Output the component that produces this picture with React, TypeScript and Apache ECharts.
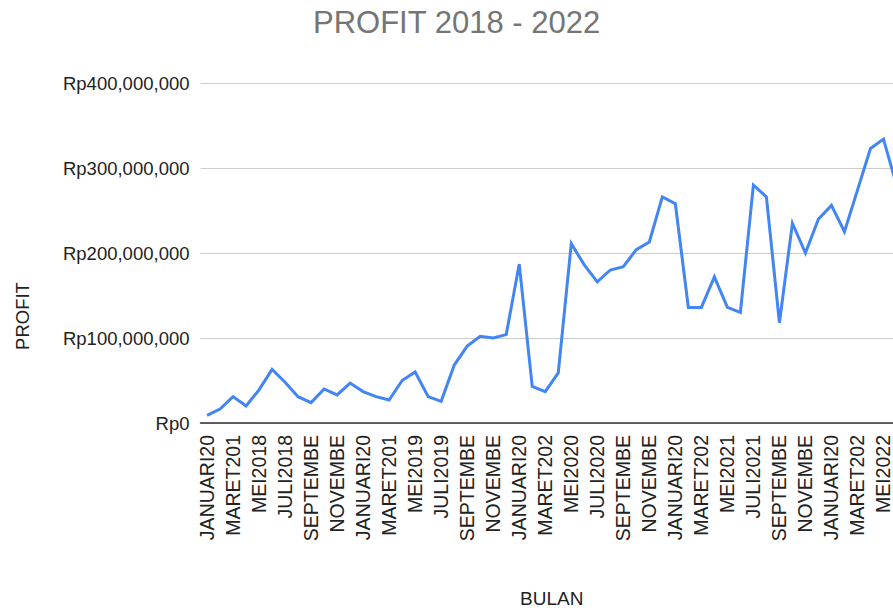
import React, { useEffect, useRef } from "react";
import * as echarts from "echarts";

const MONTHS = [
  "JANUARI", "FEBRUARI", "MARET", "APRIL", "MEI", "JUNI",
  "JULI", "AGUSTUS", "SEPTEMBER", "OKTOBER", "NOVEMBER", "DESEMBER",
];
const YEARS = [2018, 2019, 2020, 2021, 2022];

// Monthly profit (Rupiah), Januari 2018 – Juni 2022
const profit2018 = [9000000, 16500000, 31000000, 20000000, 39000000, 63000000, 48000000, 31000000, 24000000, 40000000, 33000000, 47000000];
const profit2019 = [37000000, 31000000, 27000000, 50000000, 60000000, 31000000, 25500000, 68000000, 90500000, 102000000, 100000000, 104000000];
const profit2020 = [187000000, 43000000, 37000000, 59000000, 211000000, 186000000, 166000000, 180000000, 184000000, 204000000, 213000000, 266000000];
const profit2021 = [258000000, 136000000, 136000000, 172000000, 136000000, 130000000, 280000000, 266000000, 118000000, 235000000, 200000000, 240000000];
const profit2022 = [256000000, 225000000, 274000000, 323000000, 334000000, 280000000];

const values = [...profit2018, ...profit2019, ...profit2020, ...profit2021, ...profit2022];
const categories: string[] = [];
YEARS.forEach((y) => MONTHS.forEach((m) => categories.push(m + y)));
const cats = categories.slice(0, values.length);

const yTicks = { min: 0, max: 400000000, interval: 100000000 };

const FONT = 'Arial, "Liberation Sans", sans-serif';

function fmtRp(v: number) {
  return "Rp" + v.toLocaleString("en-US");
}

export default function App() {
  const ref = useRef<HTMLDivElement>(null);
  useEffect(() => {
    if (!ref.current) return;
    const chart = echarts.init(ref.current, null, { renderer: "svg" });
    chart.setOption({
      animation: false,
      backgroundColor: "#ffffff",
      title: {
        text: "PROFIT 2018 - 2022",
        left: 308,
        top: 2,
        textStyle: { fontFamily: FONT, fontSize: 31, fontWeight: "normal", color: "#757575" },
      },
      grid: { left: 200.5, right: -10, top: 83, bottom: 188, containLabel: false, outerBoundsMode: "none" },
      xAxis: {
        type: "category",
        data: cats,
        boundaryGap: true,
        name: "BULAN",
        nameLocation: "middle",
        nameGap: 166,
        nameTextStyle: { fontFamily: FONT, fontSize: 19, color: "#222222" },
        axisLine: { show: true, lineStyle: { color: "#333333", width: 1.5 } },
        axisTick: { show: false },
        axisLabel: {
          interval: 1,
          rotate: 90,
          margin: 12,
          fontFamily: FONT,
          fontSize: 19.5,
          lineHeight: 17,
          color: "#222222",
          width: 112,
          overflow: "truncate",
          ellipsis: "",
        },
        splitLine: { show: false },
      },
      yAxis: {
        type: "value",
        min: yTicks.min,
        max: yTicks.max,
        interval: yTicks.interval,
        axisLine: { show: false },
        axisTick: { show: false },
        axisLabel: {
          margin: 11,
          fontFamily: FONT,
          fontSize: 18.5,
          color: "#222222",
          formatter: (v: number) => fmtRp(v),
        },
        splitLine: { lineStyle: { color: "#cccccc", width: 1 } },
      },
      graphic: [
        {
          type: "text",
          x: 22,
          y: 316,
          rotation: Math.PI / 2,
          style: {
            text: "PROFIT",
            fontFamily: FONT,
            fontSize: 18.5,
            fill: "#222222",
            align: "center",
            verticalAlign: "middle",
          },
        },
      ],
      series: [
        {
          type: "line",
          data: values,
          showSymbol: false,
          symbol: "none",
          lineStyle: { color: "#4285F4", width: 3, join: "miter" },
          itemStyle: { color: "#4285F4" },
        },
      ],
    });
    return () => chart.dispose();
  }, []);
  return (
    <div
      ref={ref}
      style={{ position: "fixed", left: 0, top: 0, width: 893, height: 611, background: "#fff" }}
    />
  );
}
